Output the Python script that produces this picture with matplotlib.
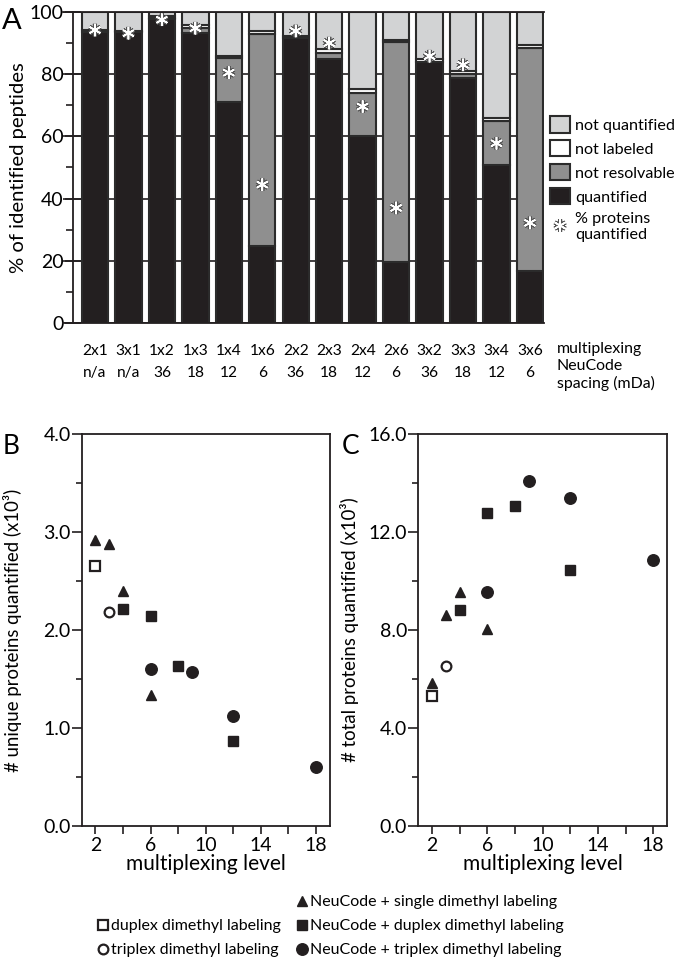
import numpy as np
import matplotlib
matplotlib.use("Agg")
import matplotlib.pyplot as plt
from matplotlib.patches import Patch
from matplotlib.lines import Line2D
import matplotlib.patheffects as pe
from matplotlib.ticker import MultipleLocator, FixedLocator

plt.rcParams['font.family'] = ['Lato', 'DejaVu Sans']

# ---------------- data: panel A ----------------
configs = ["2x1", "3x1", "1x2", "1x3", "1x4", "1x6", "2x2", "2x3", "2x4", "2x6", "3x2", "3x3", "3x4", "3x6"]
spacing = ["n/a", "n/a", "36", "18", "12", "6", "36", "18", "12", "6", "36", "18", "12", "6"]
quantified = [93.5, 93.5, 97.8, 93.1, 71.0, 24.8, 91.5, 84.9, 60.2, 19.6, 84.0, 78.7, 50.9, 16.7]
not_resolvable = [0, 0, 0.3, 1.9, 14.2, 68.0, 0, 1.9, 13.7, 70.6, 0, 1.4, 14.2, 71.6]
not_labeled = [0.6, 0.5, 0.6, 0.8, 0.8, 1.0, 0.7, 1.2, 1.2, 0.9, 0.9, 1.0, 0.8, 1.0]
pct_proteins = [94.2, 93.2, 97.5, 94.8, 80.5, 44.5, 93.9, 90.0, 69.6, 37.0, 85.8, 83.0, 57.8, 32.2]

# ---------------- data: panels B and C ----------------
single_x = [2, 3, 4, 6]
single_unique = [2.92, 2.88, 2.40, 1.34]
single_total = [5.83, 8.62, 9.57, 8.06]
duplex_x = [2]
duplex_unique = [2.65]
duplex_total = [5.29]
triplex_x = [3]
triplex_unique = [2.18]
triplex_total = [6.52]
nc_duplex_x = [4, 6, 8, 12]
nc_duplex_unique = [2.21, 2.14, 1.63, 0.87]
nc_duplex_total = [8.81, 12.78, 13.05, 10.45]
nc_triplex_x = [6, 9, 12, 18]
nc_triplex_unique = [1.60, 1.57, 1.12, 0.60]
nc_triplex_total = [9.55, 14.10, 13.39, 10.86]

K = '#231f20'
C_NQ = '#d2d3d4'
C_NL = '#ffffff'
C_NR = '#8f8f8f'
C_Q = K
EDGE = '#2b2b2b'

W, H = 675, 959
fig = plt.figure(figsize=(W / 100, H / 100), dpi=100)

def box(l, r, t, b):
    return [l / W, 1 - b / H, (r - l) / W, (b - t) / H]

# ---------------- Panel A ----------------
axA = fig.add_axes(box(63, 544, 12, 323))
x = np.arange(len(configs))
q = np.array(quantified)
nr = np.array(not_resolvable)
nl = np.array(not_labeled)
nq = 100 - q - nr - nl
bw = 0.79
lw = 1.5
axA.bar(x, q, bw, color=C_Q, edgecolor=EDGE, linewidth=lw, zorder=2)
axA.bar(x, nr, bw, bottom=q, color=C_NR, edgecolor=EDGE, linewidth=lw, zorder=2)
axA.bar(x, nl, bw, bottom=q + nr, color=C_NL, edgecolor=EDGE, linewidth=lw, zorder=2)
axA.bar(x, nq, bw, bottom=q + nr + nl, color=C_NQ, edgecolor=EDGE, linewidth=lw, zorder=2)

star_fx = [pe.Stroke(linewidth=3.0, foreground='#555555'), pe.Normal()]
axA.plot(x, pct_proteins, linestyle='none', marker=(6, 2, 0), ms=9, mew=1.2,
         color='white', zorder=5, path_effects=star_fx)

axA.set_xlim(-0.955, 13.42)
axA.set_ylim(0, 100)
axA.yaxis.set_major_locator(MultipleLocator(20))
axA.yaxis.set_minor_locator(MultipleLocator(10))
axA.yaxis.grid(True, which='major', color=K, linewidth=1.2, zorder=0)
axA.set_axisbelow(True)
axA.spines['right'].set_visible(False)
axA.spines['left'].set_position(('data', -0.66))
for s in ['left', 'top', 'bottom']:
    axA.spines[s].set_linewidth(1.3)
    axA.spines[s].set_color(K)
axA.tick_params(axis='y', which='major', direction='inout', length=11, width=1.2,
                labelsize=14, pad=1, color=K)
axA.tick_params(axis='y', which='minor', direction='out', length=5, width=1.2, color=K)
axA.set_xticks(x)
axA.set_xticklabels([f"{c}\n{s}" for c, s in zip(configs, spacing)], linespacing=1.75)
axA.tick_params(axis='x', length=0, labelsize=11.2, pad=15)
axA.set_ylabel("% of identified peptides", fontsize=14.6)
axA.yaxis.set_label_coords(-0.075, 0.5)

axA.text(557 / W, 1 - 349 / H, "multiplexing", transform=fig.transFigure,
         fontsize=11.4, ha='left', va='center')
axA.text(557 / W, 1 - 375 / H, "NeuCode\nspacing (mDa)", transform=fig.transFigure,
         fontsize=11.4, ha='left', va='center', linespacing=1.2)
fig.text(2 / W, 1 - 21 / H, "A", fontsize=21, ha='left', va='center')

handlesA = [Patch(facecolor=C_NQ, edgecolor=EDGE, linewidth=lw),
            Patch(facecolor=C_NL, edgecolor=EDGE, linewidth=lw),
            Patch(facecolor=C_NR, edgecolor=EDGE, linewidth=lw),
            Patch(facecolor=C_Q, edgecolor=EDGE, linewidth=lw),
            Line2D([], [], linestyle='none', marker=(6, 2, 0), ms=9, mew=1.2,
                   color='white', path_effects=star_fx)]
labelsA = ["not quantified", "not labeled", "not resolvable", "quantified",
           "% proteins\nquantified"]
axA.legend(handlesA, labelsA, loc='upper left', bbox_to_anchor=(550 / W, 1 - 116 / H),
           bbox_transform=fig.transFigure, frameon=False, fontsize=11.6,
           handlelength=1.25, handleheight=1.2, handletextpad=0.3,
           labelspacing=0.45, borderpad=0, borderaxespad=0)

# ---------------- Panels B and C ----------------
def scatter_panel(ax, ydata, ymax, ymajor, yminor, ylabel):
    (s_y, d_y, t_y, nd_y, nt_y) = ydata
    ax.plot(single_x, s_y, linestyle='none', marker='^', ms=7.5, color=K, mec=K)
    ax.plot(duplex_x, d_y, linestyle='none', marker='s', ms=6.5, mfc='white', mec=K, mew=1.6)
    ax.plot(triplex_x, t_y, linestyle='none', marker='o', ms=7, mfc='white', mec=K, mew=1.6)
    ax.plot(nc_duplex_x, nd_y, linestyle='none', marker='s', ms=7.3, color=K)
    ax.plot(nc_triplex_x, nt_y, linestyle='none', marker='o', ms=8.3, color=K)
    ax.set_xlim(1, 19)
    ax.set_ylim(0, ymax)
    ax.xaxis.set_major_locator(FixedLocator([2, 6, 10, 14, 18]))
    ax.xaxis.set_minor_locator(FixedLocator([4, 8, 12, 16]))
    ax.yaxis.set_major_locator(MultipleLocator(ymajor))
    ax.yaxis.set_minor_locator(MultipleLocator(yminor))
    ax.yaxis.set_major_formatter(matplotlib.ticker.FormatStrFormatter('%.1f'))
    for s in ax.spines.values():
        s.set_linewidth(1.3)
        s.set_color(K)
    ax.tick_params(axis='both', which='both', direction='out', width=1.2, color=K)
    ax.tick_params(axis='x', which='both', length=6, labelsize=14, pad=2)
    ax.tick_params(axis='y', which='major', length=7, labelsize=14, pad=1)
    ax.tick_params(axis='y', which='minor', length=4)
    ax.set_xlabel("multiplexing level", fontsize=15, labelpad=0)
    ax.set_ylabel(ylabel, fontsize=13.4)
    ax.yaxis.set_label_coords(-0.24, 0.5)

axB = fig.add_axes(box(81.7, 329.5, 434, 826))
scatter_panel(axB, (single_unique, duplex_unique, triplex_unique, nc_duplex_unique, nc_triplex_unique),
              4.0, 1.0, 0.5, "# unique proteins quantified (x10³)")
axC = fig.add_axes(box(418.3, 667, 434, 826))
scatter_panel(axC, (single_total, duplex_total, triplex_total, nc_duplex_total, nc_triplex_total),
              16.0, 4.0, 2.0, "# total proteins quantified (x10³)")
fig.text(3 / W, 1 - 446 / H, "B", fontsize=19, ha='left', va='center')
fig.text(342 / W, 1 - 446 / H, "C", fontsize=19, ha='left', va='center')

# ---------------- bottom legend ----------------
blank = Line2D([], [], linestyle='none', marker=None)
h_dup = Line2D([], [], linestyle='none', marker='s', ms=6.5, mfc='white', mec=K, mew=1.6)
h_tri = Line2D([], [], linestyle='none', marker='o', ms=7, mfc='white', mec=K, mew=1.6)
h_s = Line2D([], [], linestyle='none', marker='^', ms=7.5, color=K)
h_nd = Line2D([], [], linestyle='none', marker='s', ms=7.3, color=K)
h_nt = Line2D([], [], linestyle='none', marker='o', ms=8.3, color=K)
fig.legend([blank, h_dup, h_tri, h_s, h_nd, h_nt],
           ["", "duplex dimethyl labeling", "triplex dimethyl labeling",
            "NeuCode + single dimethyl labeling", "NeuCode + duplex dimethyl labeling",
            "NeuCode + triplex dimethyl labeling"],
           ncol=2, loc='upper left', bbox_to_anchor=(97 / W, 1 - 895 / H),
           frameon=False, fontsize=11.5, handlelength=0.75, handletextpad=0.15,
           columnspacing=0.9, labelspacing=0.62, borderpad=0, borderaxespad=0)

fig.savefig("out.png", dpi=100)
